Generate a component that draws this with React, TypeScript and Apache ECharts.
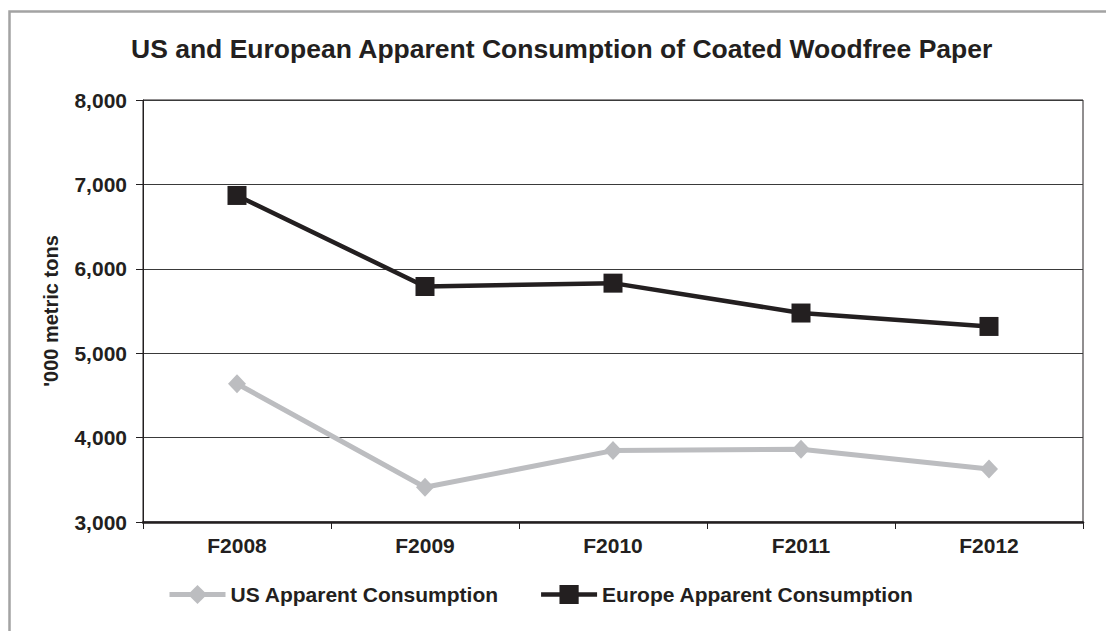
import React, { useEffect, useRef } from "react";
import * as echarts from "echarts";

const categories = ["F2008", "F2009", "F2010", "F2011", "F2012"];
const usConsumption = [4638, 3411, 3846, 3862, 3628];
const europeConsumption = [6869, 5790, 5830, 5476, 5317];
const yTicks = { min: 3000, max: 8000, interval: 1000 };

const INK = "#231f20";
const US_GREY = "#bcbdc0";
const FONT = "'Liberation Sans', Arial, Helvetica, sans-serif";

export default function App() {
  const ref = useRef<HTMLDivElement>(null);

  useEffect(() => {
    document.body.style.margin = "0";
    if (!ref.current) return;
    const chart = echarts.init(ref.current, null, { renderer: "svg" });
    chart.setOption({
      animation: false,
      backgroundColor: "#ffffff",
      textStyle: { fontFamily: FONT, color: INK },
      title: {
        text: "US and European Apparent Consumption of Coated Woodfree Paper",
        left: 131,
        top: 35,
        padding: 0,
        textStyle: { fontFamily: FONT, fontSize: 26.5, fontWeight: "bold", color: INK },
      },
      graphic: [
        {
          type: "rect",
          silent: true,
          shape: { x: 9.5, y: 11.5, width: 1300, height: 1000 },
          style: { fill: "none", stroke: "#a3a3a3", lineWidth: 2.5 },
          z: -1,
        },
      ],
      legend: {
        left: 167,
        top: 584,
        padding: 0,
        itemWidth: 56,
        itemHeight: 24,
        itemGap: 40,
        lineStyle: { width: "inherit" },
        textStyle: { fontFamily: FONT, fontSize: 21, fontWeight: "bold", color: INK },
        data: ["US Apparent Consumption", "Europe Apparent Consumption"],
      },
      grid: {
        left: 143,
        right: 23,
        top: 100,
        bottom: 109,
        show: true,
        borderColor: INK,
        borderWidth: 1,
        containLabel: false,
      },
      xAxis: {
        type: "category",
        data: categories,
        boundaryGap: true,
        axisLine: { show: true, lineStyle: { color: INK, width: 2.5 } },
        axisTick: { show: true, length: 7, lineStyle: { color: INK, width: 1 } },
        axisLabel: {
          margin: 13,
          fontFamily: FONT,
          fontSize: 21,
          fontWeight: "bold",
          color: INK,
        },
        splitLine: { show: false },
      },
      yAxis: {
        type: "value",
        min: yTicks.min,
        max: yTicks.max,
        interval: yTicks.interval,
        name: "'000 metric tons",
        nameLocation: "middle",
        nameGap: 82,
        nameRotate: 90,
        nameTextStyle: { fontFamily: FONT, fontSize: 20, fontWeight: "bold", color: INK },
        axisLine: { show: true, lineStyle: { color: INK, width: 1 } },
        axisTick: { show: true, length: 7, lineStyle: { color: INK, width: 1 } },
        axisLabel: {
          margin: 16,
          fontFamily: FONT,
          fontSize: 21,
          fontWeight: "bold",
          color: INK,
          formatter: (v: number) => v.toLocaleString("en-US"),
        },
        splitLine: { show: true, lineStyle: { color: "#3a3a3a", width: 1.2 } },
      },
      series: [
        {
          name: "US Apparent Consumption",
          type: "line",
          data: usConsumption,
          symbol: "diamond",
          symbolSize: [18, 19],
          lineStyle: { color: US_GREY, width: 5 },
          itemStyle: { color: US_GREY },
        },
        {
          name: "Europe Apparent Consumption",
          type: "line",
          data: europeConsumption,
          symbol: "rect",
          symbolSize: 19,
          lineStyle: { color: INK, width: 4.5 },
          itemStyle: { color: INK },
        },
      ],
    });
    return () => chart.dispose();
  }, []);

  return <div ref={ref} style={{ width: 1106, height: 631 }} />;
}
